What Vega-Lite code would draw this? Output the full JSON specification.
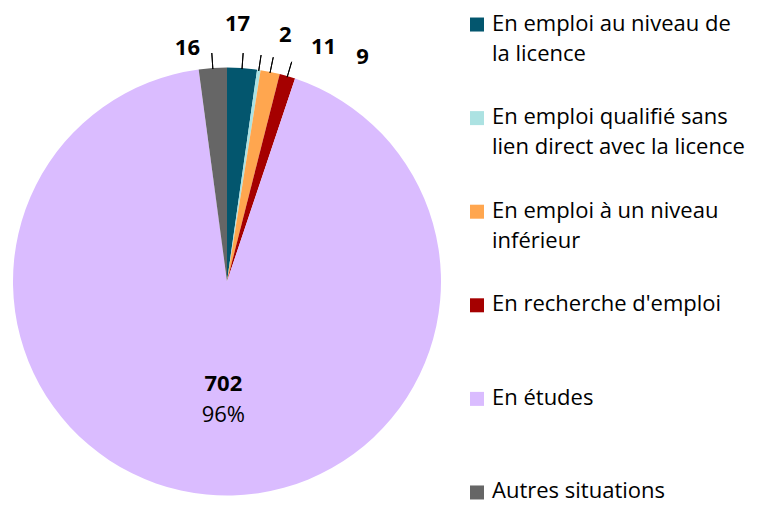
{
  "$schema": "https://vega.github.io/schema/vega-lite/v6.json",
  "padding": 0,
  "background": "white",
  "config": {"view": {"stroke": null}, "font": "Open Sans"},
  "datasets": {
    "d": [
      {"label": "En emploi au niveau de\nla licence", "value": 17, "order": 1},
      {"label": "En emploi qualifié sans\nlien direct avec la licence", "value": 2, "order": 2},
      {"label": "En emploi à un niveau\ninférieur", "value": 11, "order": 3},
      {"label": "En recherche d'emploi", "value": 9, "order": 4},
      {"label": "En études", "value": 702, "order": 5, "pct": "96%"},
      {"label": "Autres situations", "value": 16, "order": 6}
    ]
  },
  "spacing": 23,
  "bounds": "flush",
  "hconcat": [
    {
      "width": 454,
      "height": 563,
      "data": {"name": "d"},
      "encoding": {
        "theta": {"field": "value", "type": "quantitative", "stack": true},
        "order": {"field": "order", "type": "quantitative"}
      },
      "layer": [
        {
          "mark": {"type": "arc", "outerRadius": 214},
          "encoding": {
            "color": {
              "field": "label", "type": "nominal", "legend": null,
              "scale": {
                "domain": ["En emploi au niveau de\nla licence", "En emploi qualifié sans\nlien direct avec la licence", "En emploi à un niveau\ninférieur", "En recherche d'emploi", "En études", "Autres situations"],
                "range": ["#03566E", "#ACE2E2", "#FFA64F", "#A50000", "#DABCFF", "#666666"]
              }
            }
          }
        },
        {
          "mark": {"type": "arc", "innerRadius": 213, "outerRadius": 229, "padAngle": 1.8, "fillOpacity": 0, "stroke": "#000000", "strokeWidth": 1},
          "encoding": {
            "detail": {"field": "label", "type": "nominal"},
            "strokeOpacity": {"condition": {"test": "datum.order === 5", "value": 0}, "value": 1}
          }
        },
        {
          "mark": {"type": "text", "radius": 250, "fontSize": 22, "fontWeight": "bold", "color": "#000000", "dx": -7, "dy": -8},
          "encoding": {
            "detail": {"field": "label", "type": "nominal"},
            "text": {"condition": {"test": "datum.order === 1", "field": "value", "type": "quantitative"}, "value": ""}
          }
        },
        {
          "mark": {"type": "text", "radius": 250, "fontSize": 22, "fontWeight": "bold", "color": "#000000", "dx": 21, "dy": 1},
          "encoding": {
            "detail": {"field": "label", "type": "nominal"},
            "text": {"condition": {"test": "datum.order === 2", "field": "value", "type": "quantitative"}, "value": ""}
          }
        },
        {
          "mark": {"type": "text", "radius": 250, "fontSize": 22, "fontWeight": "bold", "color": "#000000", "dx": 46, "dy": 10},
          "encoding": {
            "detail": {"field": "label", "type": "nominal"},
            "text": {"condition": {"test": "datum.order === 3", "field": "value", "type": "quantitative"}, "value": ""}
          }
        },
        {
          "mark": {"type": "text", "radius": 250, "fontSize": 22, "fontWeight": "bold", "color": "#000000", "dx": 65, "dy": 15},
          "encoding": {
            "detail": {"field": "label", "type": "nominal"},
            "text": {"condition": {"test": "datum.order === 4", "field": "value", "type": "quantitative"}, "value": ""}
          }
        },
        {
          "mark": {"type": "text", "radius": 250, "fontSize": 22, "fontWeight": "bold", "color": "#000000", "dx": -23, "dy": 16},
          "encoding": {
            "detail": {"field": "label", "type": "nominal"},
            "text": {"condition": {"test": "datum.order === 6", "field": "value", "type": "quantitative"}, "value": ""}
          }
        },
        {
          "mark": {"type": "text", "radius": 101, "fontSize": 22, "fontWeight": "bold", "color": "#000000", "dx": 6, "dy": 2},
          "encoding": {
            "detail": {"field": "label", "type": "nominal"},
            "text": {"condition": {"test": "datum.order === 5", "field": "value", "type": "quantitative"}, "value": ""}
          }
        },
        {
          "mark": {"type": "text", "radius": 101, "fontSize": 22, "color": "#000000", "dx": 6, "dy": 33},
          "encoding": {
            "detail": {"field": "label", "type": "nominal"},
            "text": {"condition": {"test": "datum.order === 5", "field": "pct", "type": "nominal"}, "value": ""}
          }
        }
      ]
    },
    {
      "width": 266,
      "height": 517,
      "data": {"name": "d"},
      "encoding": {
        "y": {"field": "order", "type": "ordinal", "scale": {"type": "point", "padding": 0.262}, "axis": null},
        "x": {"datum": 0, "type": "quantitative", "scale": {"domain": [0, 1]}, "axis": null}
      },
      "layer": [
        {
          "mark": {"type": "square", "size": 196, "opacity": 1},
          "encoding": {
            "color": {
              "field": "label", "type": "nominal", "legend": null,
              "scale": {
                "domain": ["En emploi au niveau de\nla licence", "En emploi qualifié sans\nlien direct avec la licence", "En emploi à un niveau\ninférieur", "En recherche d'emploi", "En études", "Autres situations"],
                "range": ["#03566E", "#ACE2E2", "#FFA64F", "#A50000", "#DABCFF", "#666666"]
              }
            }
          }
        },
        {
          "mark": {"type": "text", "align": "left", "baseline": "alphabetic", "dx": 15, "dy": 6, "fontSize": 22, "lineHeight": 30, "lineBreak": "\n", "color": "#000000"},
          "encoding": {"text": {"field": "label", "type": "nominal"}}
        }
      ]
    }
  ]
}
